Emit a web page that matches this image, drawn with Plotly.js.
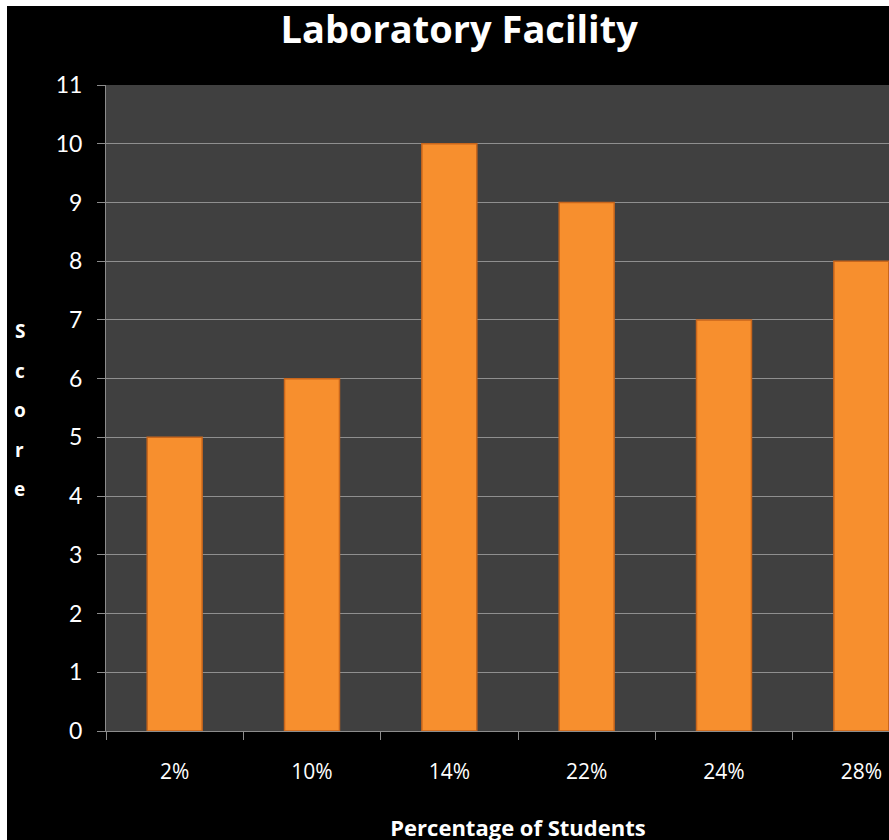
<!DOCTYPE html>
<html>
<head>
<meta charset="utf-8">
<script src="https://cdn.plot.ly/plotly-3.0.1.min.js"></script>
<style>
html, body { margin: 0; padding: 0; background: #ffffff; overflow: hidden; width: 889px; height: 840px; }
#chart { position: absolute; left: 7px; top: 6px; }
</style>
</head>
<body>
<div id="chart"></div>
<script>
const categories = ["2%", "10%", "14%", "22%", "24%", "28%"];
const scores = [5, 6, 10, 9, 7, 8];
const yTitleLetters = ["S", "c", "o", "r", "e"];

const W = 950, H = 860;
const annotations = yTitleLetters.map((ch, i) => ({
  text: "<b>" + ch + "</b>",
  xref: "paper", yref: "paper",
  x: -0.1045, xanchor: "center",
  y: 1 - ((331 + i * 39.5) - 85) / 646,
  yanchor: "middle",
  showarrow: false,
  font: { family: "'Open Sans', sans-serif", size: 19, color: "#ffffff" }
}));

const trace = {
  type: "bar",
  x: categories,
  y: scores,
  marker: {
    color: "#F78F2E",
    line: { color: "#C8661C", width: 1.5 }
  },
  hoverinfo: "skip"
};

const layout = {
  width: W, height: H,
  paper_bgcolor: "#000000",
  plot_bgcolor: "#404040",
  margin: { l: 99, r: 27, t: 79, b: 135 },
  bargap: 0.6,
  showlegend: false,
  title: {
    text: "<b>Laboratory Facility</b>",
    xref: "container", x: 0.476, xanchor: "center",
    yref: "container", y: 1 - 24 / H, yanchor: "middle",
    font: { family: "'Open Sans', sans-serif", size: 38, color: "#ffffff" }
  },
  xaxis: {
    type: "category",
    range: [-0.5, 5.5],
    showgrid: false,
    showline: true, linecolor: "#8c8c8c", linewidth: 1,
    ticks: "outside", tickson: "boundaries", ticklen: 8, tickcolor: "#8c8c8c", tickwidth: 1,
    ticklabelstandoff: 22,
    tickfont: { family: "'Open Sans', sans-serif", size: 21, color: "#ffffff" },
    title: {
      text: "<b>Percentage of Students</b>",
      standoff: 36,
      font: { family: "'Open Sans', sans-serif", size: 22, color: "#ffffff" }
    },
    fixedrange: true
  },
  yaxis: {
    range: [0, 11],
    dtick: 1,
    tick0: 0,
    showgrid: true, gridcolor: "#8f8f8f", gridwidth: 1,
    zeroline: false,
    showline: true, linecolor: "#8c8c8c", linewidth: 1,
    ticks: "outside", ticklen: 8, tickcolor: "#8c8c8c", tickwidth: 1,
    ticklabelstandoff: 10,
    tickfont: { family: "Lato, 'Open Sans', sans-serif", size: 23, color: "#ffffff" },
    fixedrange: true
  },
  annotations: annotations
};

Plotly.newPlot("chart", [trace], layout, { displayModeBar: false, staticPlot: true });
</script>
</body>
</html>
